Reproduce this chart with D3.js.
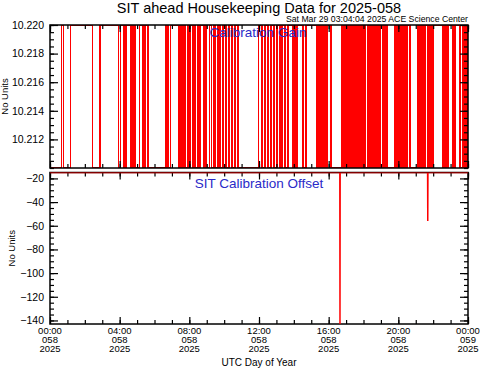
<!DOCTYPE html>
<html>
<head>
<meta charset="utf-8">
<script src="https://cdn.jsdelivr.net/npm/d3@7"></script>
<style>
  body { margin: 0; background: #fff; }
  svg { display: block; font-family: "Liberation Sans", Arial, sans-serif; }
</style>
</head>
<body>
<svg id="chart" width="481" height="371"></svg>
<script>
// ---- data ----
const titleText = 'SIT ahead Housekeeping Data for 2025-058';
const stampText = 'Sat Mar 29 03:04:04 2025 ACE Science Center';
const dayStart = '2025-02-27T00:00:00Z'; // day 058
const hourTicks = [0, 4, 8, 12, 16, 20, 24];

// Calibration gain toggles between two levels; hours of each toggle
const gainLevels = [10.210, 10.220];
const gainEdges = [
  0.660, 0.775, 1.189, 2.452, 2.871, 3.922, 4.048, 4.249, 4.364, 4.651,
  4.766, 4.880, 5.139, 5.340, 5.455, 5.627, 6.660, 6.775, 6.919, 7.407,
  7.481, 7.579, 7.636, 7.751, 7.906, 7.981, 8.078, 8.170, 8.268, 8.366,
  8.457, 8.555, 8.612, 8.802, 8.899, 8.997, 9.146, 9.284, 9.376, 9.474,
  9.646, 9.761, 9.933, 10.105, 10.277, 10.450, 10.622, 10.794, 11.960, 12.172,
  12.344, 12.517, 12.689, 12.861, 13.033, 13.206, 13.321, 13.493, 13.665, 13.952,
  14.038, 14.124, 14.210, 14.526, 14.699, 15.330, 15.445, 15.560, 15.675, 15.789,
  15.904, 16.134, 16.766, 16.852, 16.938, 17.024, 17.110, 17.196, 17.282, 17.368,
  17.455, 17.541, 17.627, 17.713, 17.799, 17.885, 17.971, 18.086, 18.258, 18.373,
  18.488, 18.603, 18.718, 18.833, 18.947, 19.120, 19.234, 19.349, 19.809, 19.923,
  20.038, 20.153, 20.268, 20.383, 20.498, 20.670, 21.129, 21.244, 21.359, 21.474,
  21.560, 21.703, 21.818, 21.933, 22.019, 22.565, 22.679, 22.794, 22.880, 23.139,
  23.254, 23.541, 23.713, 23.828, 23.943
];
const gainTicks = [10.212, 10.214, 10.216, 10.218, 10.220];

// SIT calibration offset
const offsetHours = [0, 16.64, 16.65, 16.66, 21.68, 21.69, 21.70, 24];
const offsetValues = [-15, -15, -143, -15, -15, -56, -15, -15];
const offsetTicks = [-20, -40, -60, -80, -100, -120, -140];

// ---- layout ----
const svg = d3.select('svg#chart');
const L = 50, R = 468;
const gainBox = { top: 25, bottom: 168 };
const offBox = { top: 172.5, bottom: 324 };
const red = '#f00';
const blue = '#2a2ac8';

const t0 = new Date(dayStart);
const toDate = h => new Date(t0.getTime() + h * 3600e3);
const x = d3.scaleUtc().domain([toDate(0), toDate(24)]).range([L, R]);

const yGain = d3.scaleLinear().domain([10.210, 10.220]).range([gainBox.bottom, gainBox.top]);
const yOff = d3.scaleLinear().domain([-143, -15]).range([offBox.bottom, offBox.top]);

// gain points: level flips at every edge
let lvl = 0;
const gainPts = [[0, gainLevels[lvl]]];
gainEdges.forEach(h => { lvl = 1 - lvl; gainPts.push([h, gainLevels[lvl]]); });
gainPts.push([24, gainLevels[lvl]]);

const clip = (id, box) => svg.append('clipPath').attr('id', id)
  .append('rect').attr('x', L).attr('y', box.top).attr('width', R - L).attr('height', box.bottom - box.top);
clip('clipGain', gainBox);
clip('clipOff', offBox);

const lineStep = d3.line().x(d => x(toDate(d[0]))).y(d => yGain(d[1])).curve(d3.curveStepAfter);
svg.append('path')
  .attr('clip-path', 'url(#clipGain)')
  .attr('d', lineStep(gainPts))
  .attr('fill', 'none').attr('stroke', red).attr('stroke-width', 1.3)
  .attr('shape-rendering', 'crispEdges');

// frame + ticks for a panel
function drawAxes(box, y, major, minor, fmt) {
  const noDomain = g => g.select('.domain').remove();
  svg.append('rect')
    .attr('x', L).attr('y', box.top).attr('width', R - L).attr('height', box.bottom - box.top)
    .attr('fill', 'none').attr('stroke', '#000').attr('stroke-width', 1.5);

  const left = svg.append('g').attr('transform', `translate(${L},0)`)
    .call(d3.axisLeft(y).tickValues(major).tickSize(-8).tickPadding(6).tickFormat(fmt)).call(noDomain);
  left.selectAll('text').attr('font-size', 10.5).attr('font-family', null);
  svg.append('g').attr('transform', `translate(${L},0)`)
    .call(d3.axisLeft(y).tickValues(minor).tickSize(-4).tickFormat('')).call(noDomain);
  svg.append('g').attr('transform', `translate(${R},0)`)
    .call(d3.axisRight(y).tickValues(major).tickSize(-8).tickFormat('')).call(noDomain);
  svg.append('g').attr('transform', `translate(${R},0)`)
    .call(d3.axisRight(y).tickValues(minor).tickSize(-4).tickFormat('')).call(noDomain);

  const hours = d3.range(0, 25, 1).map(toDate);
  const majors = hourTicks.map(toDate);
  [[box.bottom, d3.axisBottom], [box.top, d3.axisTop]].forEach(([yy, ax]) => {
    svg.append('g').attr('transform', `translate(0,${yy})`)
      .call(ax(x).tickValues(hours).tickSize(-4).tickFormat('')).call(noDomain);
    svg.append('g').attr('transform', `translate(0,${yy})`)
      .call(ax(x).tickValues(majors).tickSize(-7).tickFormat('')).call(noDomain);
  });
  svg.selectAll('.tick line').attr('stroke-width', 1.2);
}

drawAxes(gainBox, yGain, gainTicks, d3.range(10.210, 10.2201, 0.0005), d3.format('.3f'));
drawAxes(offBox, yOff, offsetTicks, d3.range(-140, -19, 5), d => d3.format('d')(d).replace('-', '\u2212'));

const lineOff = d3.line().x((d, i) => x(toDate(offsetHours[i]))).y(d => yOff(d));
svg.append('path')
  .attr('clip-path', 'url(#clipOff)')
  .attr('d', lineOff(offsetValues))
  .attr('fill', 'none').attr('stroke', red).attr('stroke-width', 1.5);

// x tick labels, three stacked lines in one text each
const fmtHM = d3.utcFormat('%H:%M'), fmtDoy = d3.utcFormat('%j'), fmtYr = d3.utcFormat('%Y');
const xl = svg.append('g').attr('font-size', 9.5).attr('text-anchor', 'middle');
hourTicks.map(toDate).forEach(d => {
  const t = xl.append('text').attr('x', x(d)).attr('y', 333.5);
  t.append('tspan').attr('x', x(d)).text(fmtHM(d));
  t.append('tspan').attr('x', x(d)).attr('dy', 9).text(fmtDoy(d));
  t.append('tspan').attr('x', x(d)).attr('dy', 9).text(fmtYr(d));
});

// titles
svg.append('text').attr('x', 259).attr('y', 13).attr('text-anchor', 'middle')
  .attr('font-size', 14.5).text(titleText);
svg.append('text').attr('x', 468).attr('y', 22).attr('text-anchor', 'end')
  .attr('font-size', 8.7).text(stampText);
svg.append('text').attr('x', 258).attr('y', 37).attr('text-anchor', 'middle')
  .attr('font-size', 13.5).attr('fill', blue).text('Calibration Gain');
svg.append('text').attr('x', 259).attr('y', 188).attr('text-anchor', 'middle')
  .attr('font-size', 13.5).attr('fill', blue).text('SIT Calibration Offset');
svg.append('text').attr('x', 259).attr('y', 366).attr('text-anchor', 'middle')
  .attr('font-size', 10).text('UTC Day of Year');

[[7.5, (gainBox.top + gainBox.bottom) / 2], [15, (offBox.top + offBox.bottom) / 2]].forEach(([xx, yy]) => {
  svg.append('text').attr('transform', `translate(${xx},${yy}) rotate(-90)`)
    .attr('text-anchor', 'middle').attr('font-size', 9.5).text('No Units');
});
</script>
</body>
</html>
